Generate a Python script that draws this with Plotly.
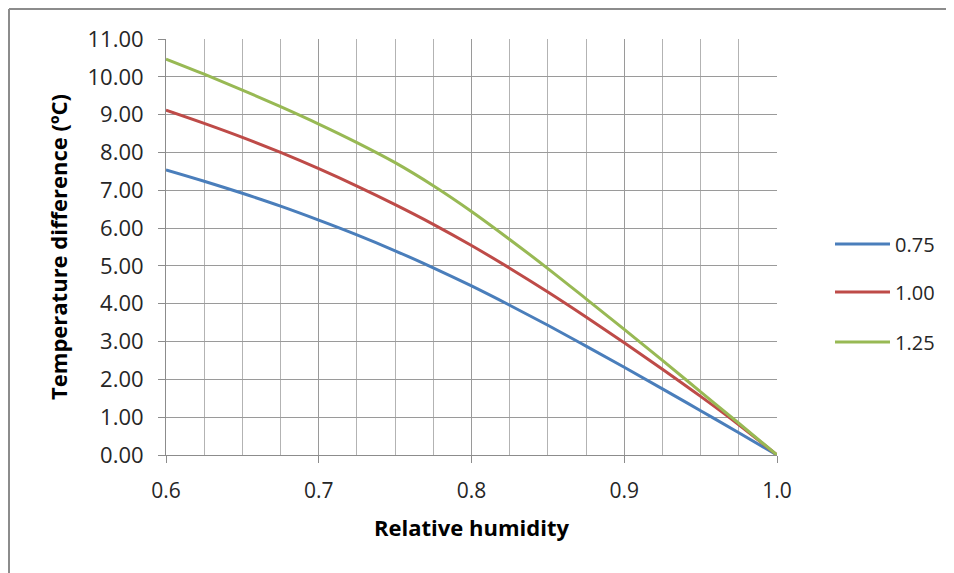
import plotly.graph_objects as go

rh = [0.6, 0.625, 0.65, 0.675, 0.7, 0.725, 0.75, 0.775, 0.8, 0.825, 0.85,
      0.875, 0.9, 0.925, 0.95, 0.975, 1.0]
dt_075 = [7.54, 7.24, 6.92, 6.58, 6.21, 5.82, 5.40, 4.95, 4.47, 3.96, 3.43,
          2.88, 2.32, 1.75, 1.17, 0.59, 0.0]
dt_100 = [9.12, 8.77, 8.40, 8.00, 7.57, 7.11, 6.62, 6.10, 5.54, 4.94, 4.31,
          3.65, 2.97, 2.27, 1.55, 0.80, 0.0]
dt_125 = [10.47, 10.07, 9.65, 9.21, 8.75, 8.26, 7.73, 7.12, 6.44, 5.70, 4.93,
          4.13, 3.32, 2.50, 1.67, 0.84, 0.0]

series_names = ["0.75", "1.00", "1.25"]
series_values = [dt_075, dt_100, dt_125]
series_colors = ["#4A7EBB", "#BE4B48", "#98B954"]

y_ticks = [i for i in range(0, 12)]
y_tick_labels = [f"{v:.2f}" for v in y_ticks]
x_ticks = [0.6, 0.7, 0.8, 0.9, 1.0]
x_tick_labels = ["0.6", "0.7", "0.8", "0.9", "1.0"]

FONT = "'Open Sans', Lato, sans-serif"

W, H = 954, 573
L, R, T, B = 158, 185, 31, 126
PW, PH = W - L - R, H - T - B

fig = go.Figure()
legend_ids = ["legend", "legend2", "legend3"]
legend_y = [236, 284, 334]
for name, vals, col, lid in zip(series_names, series_values, series_colors, legend_ids):
    fig.add_trace(go.Scatter(
        x=rh, y=vals, mode="lines", name=name,
        line=dict(color=col, width=3, shape="spline", smoothing=1.0),
        legend=lid,
    ))

legend_common = dict(
    font=dict(family=FONT, size=20, color="#262626"),
    bgcolor="rgba(0,0,0,0)", borderwidth=0,
    xanchor="left", yanchor="middle", itemwidth=55,
    tracegroupgap=0,
)
layout_legends = {}
for lid, ly in zip(legend_ids, legend_y):
    layout_legends[lid] = dict(legend_common, x=822 / W, y=1 - ly / H,
                               xref="container", yref="container")

fig.update_layout(
    width=W, height=H,
    margin=dict(l=L, r=R, t=T, b=B),
    paper_bgcolor="white", plot_bgcolor="white",
    showlegend=True,
    font=dict(family=FONT, color="#262626"),
    xaxis=dict(
        range=[0.6, 1.0],
        tickvals=x_ticks, ticktext=x_tick_labels,
        tickfont=dict(family=FONT, size=21, color="#262626"),
        showgrid=True, gridcolor="#9a9a9a", gridwidth=1,
        minor=dict(dtick=0.025, tick0=0.6, showgrid=True, gridcolor="#b3b3b3", gridwidth=1),
        showline=True, linecolor="#8c8c8c", linewidth=1,
        ticks="outside", ticklen=7, tickcolor="#8c8c8c",
        ticklabelstandoff=10,
        zeroline=False,
        title=dict(text="<b>Relative humidity</b>",
                   font=dict(family=FONT, size=22, color="#000000"), standoff=17),
    ),
    yaxis=dict(
        range=[0, 11],
        tickvals=y_ticks, ticktext=y_tick_labels,
        tickfont=dict(family=FONT, size=22, color="#262626"),
        showgrid=True, gridcolor="#9a9a9a", gridwidth=1,
        showline=True, linecolor="#8c8c8c", linewidth=1,
        ticks="outside", ticklen=7, tickcolor="#8c8c8c",
        ticklabelstandoff=10,
        zeroline=False,
        title=dict(text="<b>Temperature difference (ºC)</b>",
                   font=dict(family=FONT, size=22, color="#000000"), standoff=13),
    ),
    **layout_legends,
)

# chart frame (top and left border)
top_y = 1 + (T - 1) / PH
left_x = (1 - L) / PW
fig.add_shape(type="line", xref="paper", yref="paper",
              x0=left_x, x1=(W - L) / PW, y0=top_y, y1=top_y,
              line=dict(color="#8c8c8c", width=2))
fig.add_shape(type="line", xref="paper", yref="paper",
              x0=left_x, x1=left_x, y0=top_y, y1=-(B + 5) / PH,
              line=dict(color="#8c8c8c", width=2))

fig.write_html("out.html")
